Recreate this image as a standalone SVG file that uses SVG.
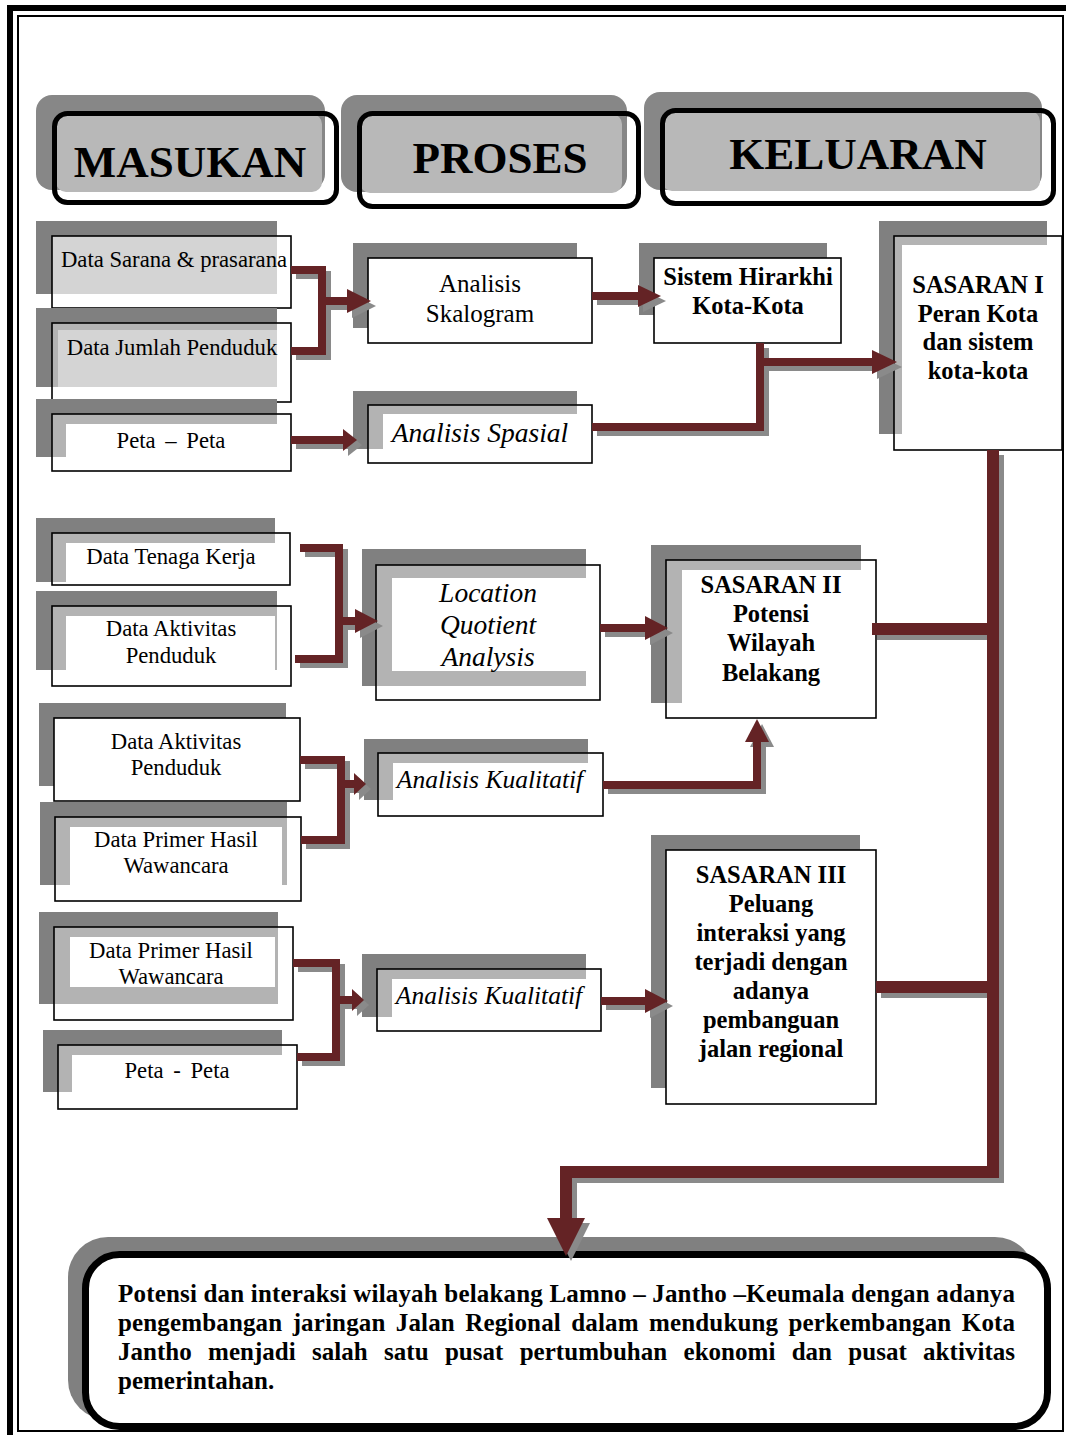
<svg xmlns="http://www.w3.org/2000/svg" xmlns:xlink="http://www.w3.org/1999/xlink" width="1066" height="1435" viewBox="0 0 1066 1435">
<style>
.sh{fill:#808080}
.bx{fill:#fff}
.st{fill:none;stroke:#000;stroke-width:1.6}
.ov{fill:#b3b3b3}
.ovl{fill:#d4d4d4}
.wh{fill:#fff}
.t{font-family:"Liberation Serif","Times New Roman",serif;fill:#000;text-anchor:middle}
.in{font-size:22.7px}
.pr{font-size:27.5px;font-style:italic}
.bd{font-size:24.5px;font-weight:bold}
.hd{font-size:45px;font-weight:bold}
.bt{font-family:"Liberation Serif","Times New Roman",serif;fill:#000;font-size:25px;font-weight:bold}
.cn{fill:none;stroke-width:8;stroke-linejoin:miter;stroke-linecap:butt}
.ck{fill:none;stroke-width:12;stroke-linejoin:miter;stroke-linecap:butt}
.ah{stroke:none}
</style>
<defs>
<g id="conn">
<path class="cn" d="M291,270 H322 V351 H291"/>
<path class="cn" d="M322,301 H350"/>
<polygon class="ah" points="347,289 371,301 347,313"/>
<path class="cn" d="M291,440 H346"/>
<polygon class="ah" points="343,429 357,440 343,451"/>
<path class="cn" d="M592,296 H641"/>
<polygon class="ah" points="638,285 661,296 638,307"/>
<path class="cn" d="M592,427 H760 V343"/>
<path class="cn" d="M760,362 H875"/>
<polygon class="ah" points="872,350 897,362 872,374"/>
<path class="cn" d="M300,548 H339 V659 H295"/>
<path class="cn" d="M339,621 H358"/>
<polygon class="ah" points="355,609 378,621 355,633"/>
<path class="cn" d="M600,628 H647"/>
<polygon class="ah" points="645,616 668,628 645,640"/>
<path class="cn" d="M300,760 H341 V840 H301"/>
<path class="cn" d="M341,784 H356"/>
<polygon class="ah" points="354,773 366,784 354,795"/>
<path class="cn" d="M603,785 H757 V741"/>
<polygon class="ah" points="745,742 769,742 757,719"/>
<path class="cn" d="M293,963 H336 V1057 H297"/>
<path class="cn" d="M336,1000 H354"/>
<polygon class="ah" points="352,989 364,1000 352,1011"/>
<path class="cn" d="M601,1001 H647"/>
<polygon class="ah" points="645,989 668,1001 645,1013"/>
<path class="ck" d="M993,450 V1172 H566 V1220"/>
<polygon class="ah" points="547,1218 585,1218 566,1256"/>
<path class="ck" d="M872,629 H993"/>
<path class="ck" d="M876,987 H993"/>
</g>
</defs>

<g id="frame">
<path d="M1066,8 H10 V1435" fill="none" stroke="#000" stroke-width="6"/>
<path d="M1063,16 H18 V1431 H1063 Z" fill="none" stroke="#000" stroke-width="2"/>
</g>

<g id="hdr-masukan">
<rect x="36" y="95" width="289" height="95" rx="16" fill="#878787"/>
<rect x="56" y="114" width="266" height="78" rx="10" fill="#b8b8b8"/>
<rect x="54.5" y="113.5" width="282" height="89" rx="13" fill="none" stroke="#000" stroke-width="5"/>
<text class="t hd" x="190" y="177">MASUKAN</text>
</g>
<g id="hdr-proses">
<rect x="341" y="95" width="286" height="97" rx="16" fill="#878787"/>
<rect x="360" y="114" width="262" height="79" rx="10" fill="#b8b8b8"/>
<rect x="359.5" y="113.5" width="279" height="93" rx="13" fill="none" stroke="#000" stroke-width="5"/>
<text class="t hd" x="500" y="173">PROSES</text>
</g>
<g id="hdr-keluaran">
<rect x="644" y="92" width="398" height="98" rx="16" fill="#878787"/>
<rect x="662" y="111" width="378" height="80" rx="10" fill="#b8b8b8"/>
<rect x="662.5" y="110.5" width="391" height="93" rx="13" fill="none" stroke="#000" stroke-width="5"/>
<text class="t hd" x="858" y="169">KELUARAN</text>
</g>

<g id="n-data-sarana">
<rect class="sh" x="36" y="221" width="241" height="73"/>
<rect class="bx" x="52" y="236" width="239" height="72"/>
<rect class="ovl" x="52" y="236" width="225" height="58"/>
<rect class="st" x="52" y="236" width="239" height="72"/>
<text class="t in" x="174" y="267">Data Sarana &amp; prasarana</text>
</g>
<g id="n-data-jumlah">
<rect class="sh" x="36" y="308" width="241" height="79"/>
<rect class="bx" x="52" y="323" width="239" height="79"/>
<rect class="ov" x="52" y="323" width="225" height="64"/>
<rect class="ovl" x="58" y="330" width="219" height="57"/>
<rect class="st" x="52" y="323" width="239" height="79"/>
<text class="t in" x="172" y="355">Data Jumlah Penduduk</text>
</g>
<g id="n-peta1">
<rect class="sh" x="36" y="399" width="241" height="58"/>
<rect class="bx" x="52" y="414" width="239" height="57"/>
<rect class="ov" x="52" y="414" width="225" height="43"/>
<rect class="wh" x="66" y="424" width="211" height="33"/>
<rect class="st" x="52" y="414" width="239" height="57"/>
<text class="t in" x="171" y="448" word-spacing="4">Peta – Peta</text>
</g>

<g id="n-skalogram">
<rect class="sh" x="353" y="243" width="224" height="85"/>
<rect class="bx" x="368" y="258" width="224" height="85"/>
<rect class="st" x="368" y="258" width="224" height="85"/>
<text class="t in" x="480" y="292" style="font-size:25px">Analisis</text>
<text class="t in" x="480" y="322" style="font-size:25px">Skalogram</text>
</g>
<g id="n-spasial">
<rect class="sh" x="353" y="391" width="224" height="58"/>
<rect class="bx" x="368" y="405" width="224" height="58"/>
<rect class="ov" x="368" y="405" width="209" height="44"/>
<rect class="wh" x="383" y="414" width="194" height="35"/>
<rect class="st" x="368" y="405" width="224" height="58"/>
<text class="t pr" x="480" y="442">Analisis Spasial</text>
</g>

<g id="n-hirarkhi">
<rect class="sh" x="639" y="243" width="188" height="72"/>
<rect class="bx" x="654" y="258" width="187" height="85"/>
<rect class="st" x="654" y="258" width="187" height="85"/>
<text class="t bd" x="748" y="285">Sistem Hirarkhi</text>
<text class="t bd" x="748" y="314">Kota-Kota</text>
</g>

<g id="n-sasaran1">
<rect class="sh" x="879" y="221" width="168" height="213"/>
<rect class="bx" x="894" y="236" width="168" height="214"/>
<rect class="ov" x="894" y="236" width="153" height="198"/>
<rect class="wh" x="902" y="245" width="145" height="189"/>
<rect class="st" x="894" y="236" width="168" height="214"/>
<text class="t bd" x="978" y="293">SASARAN I</text>
<text class="t bd" x="978" y="322">Peran Kota</text>
<text class="t bd" x="978" y="350">dan sistem</text>
<text class="t bd" x="978" y="379">kota-kota</text>
</g>

<g id="n-tenaga">
<rect class="sh" x="36" y="518" width="239" height="64"/>
<rect class="bx" x="52" y="533" width="238" height="52"/>
<rect class="ov" x="52" y="533" width="223" height="49"/>
<rect class="wh" x="66" y="543" width="209" height="39"/>
<rect class="st" x="52" y="533" width="238" height="52"/>
<text class="t in" x="171" y="564">Data Tenaga Kerja</text>
</g>
<g id="n-aktivitas1">
<rect class="sh" x="36" y="591" width="241" height="79"/>
<rect class="bx" x="52" y="606" width="239" height="80"/>
<rect class="ov" x="52" y="606" width="225" height="64"/>
<rect class="wh" x="66" y="616" width="209" height="54"/>
<rect class="st" x="52" y="606" width="239" height="80"/>
<text class="t in" x="171" y="636">Data Aktivitas</text>
<text class="t in" x="171" y="663">Penduduk</text>
</g>

<g id="n-lq">
<rect class="sh" x="362" y="549" width="224" height="137"/>
<rect class="bx" x="376" y="565" width="224" height="135"/>
<rect class="ov" x="376" y="565" width="210" height="121"/>
<rect class="wh" x="392" y="578" width="194" height="93"/>
<rect class="st" x="376" y="565" width="224" height="135"/>
<text class="t pr" x="488" y="602">Location</text>
<text class="t pr" x="488" y="634">Quotient</text>
<text class="t pr" x="488" y="666">Analysis</text>
</g>

<g id="n-sasaran2">
<rect class="sh" x="651" y="545" width="210" height="158"/>
<rect class="bx" x="666" y="560" width="210" height="158"/>
<rect class="ov" x="666" y="560" width="195" height="143"/>
<rect class="wh" x="682" y="570" width="179" height="133"/>
<rect class="st" x="666" y="560" width="210" height="158"/>
<text class="t bd" x="771" y="593">SASARAN II</text>
<text class="t bd" x="771" y="622">Potensi</text>
<text class="t bd" x="771" y="651">Wilayah</text>
<text class="t bd" x="771" y="681">Belakang</text>
</g>

<g id="n-aktivitas2">
<rect class="sh" x="39" y="703" width="247" height="83"/>
<rect class="bx" x="54" y="718" width="246" height="83"/>
<rect class="st" x="54" y="718" width="246" height="83"/>
<text class="t in" x="176" y="749">Data Aktivitas</text>
<text class="t in" x="176" y="775">Penduduk</text>
</g>
<g id="n-primer1">
<rect class="sh" x="40" y="802" width="247" height="83"/>
<rect class="bx" x="55" y="817" width="246" height="84"/>
<rect class="ov" x="55" y="817" width="232" height="68"/>
<rect class="wh" x="70" y="827" width="212" height="58"/>
<rect class="st" x="55" y="817" width="246" height="84"/>
<text class="t in" x="176" y="847">Data Primer Hasil</text>
<text class="t in" x="176" y="873">Wawancara</text>
</g>
<g id="n-kualitatif1">
<rect class="sh" x="364" y="739" width="224" height="61"/>
<rect class="bx" x="378" y="753" width="225" height="63"/>
<rect class="ov" x="378" y="753" width="210" height="47"/>
<rect class="wh" x="393" y="763" width="195" height="37"/>
<rect class="st" x="378" y="753" width="225" height="63"/>
<text class="t pr" x="490" y="788" style="font-size:25.5px">Analisis Kualitatif</text>
</g>

<g id="n-primer2">
<rect class="sh" x="39" y="912" width="239" height="92"/>
<rect class="bx" x="54" y="927" width="239" height="93"/>
<rect class="ov" x="54" y="927" width="224" height="77"/>
<rect class="wh" x="70" y="937" width="205" height="50"/>
<rect class="st" x="54" y="927" width="239" height="93"/>
<text class="t in" x="171" y="958">Data Primer Hasil</text>
<text class="t in" x="171" y="984">Wawancara</text>
</g>
<g id="n-peta2">
<rect class="sh" x="43" y="1030" width="239" height="62"/>
<rect class="bx" x="58" y="1045" width="239" height="64"/>
<rect class="ov" x="58" y="1045" width="224" height="47"/>
<rect class="wh" x="72" y="1055" width="210" height="37"/>
<rect class="st" x="58" y="1045" width="239" height="64"/>
<text class="t in" x="177" y="1078" word-spacing="4">Peta - Peta</text>
</g>
<g id="n-kualitatif2">
<rect class="sh" x="362" y="954" width="224" height="63"/>
<rect class="bx" x="377" y="969" width="224" height="62"/>
<rect class="ov" x="377" y="969" width="209" height="48"/>
<rect class="wh" x="392" y="979" width="194" height="38"/>
<rect class="st" x="377" y="969" width="224" height="62"/>
<text class="t pr" x="489" y="1004" style="font-size:25.5px">Analisis Kualitatif</text>
</g>

<g id="n-sasaran3">
<rect class="sh" x="651" y="835" width="209" height="253"/>
<rect class="bx" x="666" y="850" width="210" height="254"/>
<rect class="st" x="666" y="850" width="210" height="254"/>
<text class="t bd" x="771" y="883">SASARAN III</text>
<text class="t bd" x="771" y="912">Peluang</text>
<text class="t bd" x="771" y="941">interaksi yang</text>
<text class="t bd" x="771" y="970">terjadi dengan</text>
<text class="t bd" x="771" y="999">adanya</text>
<text class="t bd" x="771" y="1028">pembanguan</text>
<text class="t bd" x="771" y="1057">jalan regional</text>
</g>

<g id="n-kesimpulan">
<rect x="68" y="1237" width="967" height="183" rx="40" fill="#808080"/>
<rect x="85.5" y="1254.5" width="962" height="172" rx="34" fill="#fff" stroke="#000" stroke-width="7"/>
<text class="bt" x="118" y="1302" textLength="897" lengthAdjust="spacing">Potensi dan interaksi wilayah belakang Lamno – Jantho –Keumala dengan adanya</text>
<text class="bt" x="118" y="1331" word-spacing="4" textLength="897" lengthAdjust="spacing">pengembangan jaringan Jalan Regional dalam mendukung perkembangan  Kota</text>
<text class="bt" x="118" y="1360" word-spacing="10" textLength="897" lengthAdjust="spacing">Jantho menjadi salah satu pusat pertumbuhan ekonomi dan pusat aktivitas</text>
<text class="bt" x="118" y="1389">pemerintahan.</text>
</g>

<g id="connectors">
<g transform="translate(5,5)" stroke="#8a8a8a" fill="#8a8a8a"><use xlink:href="#conn" href="#conn"/></g>
<g stroke="#642325" fill="#642325"><use xlink:href="#conn" href="#conn"/></g>
</g>
</svg>
